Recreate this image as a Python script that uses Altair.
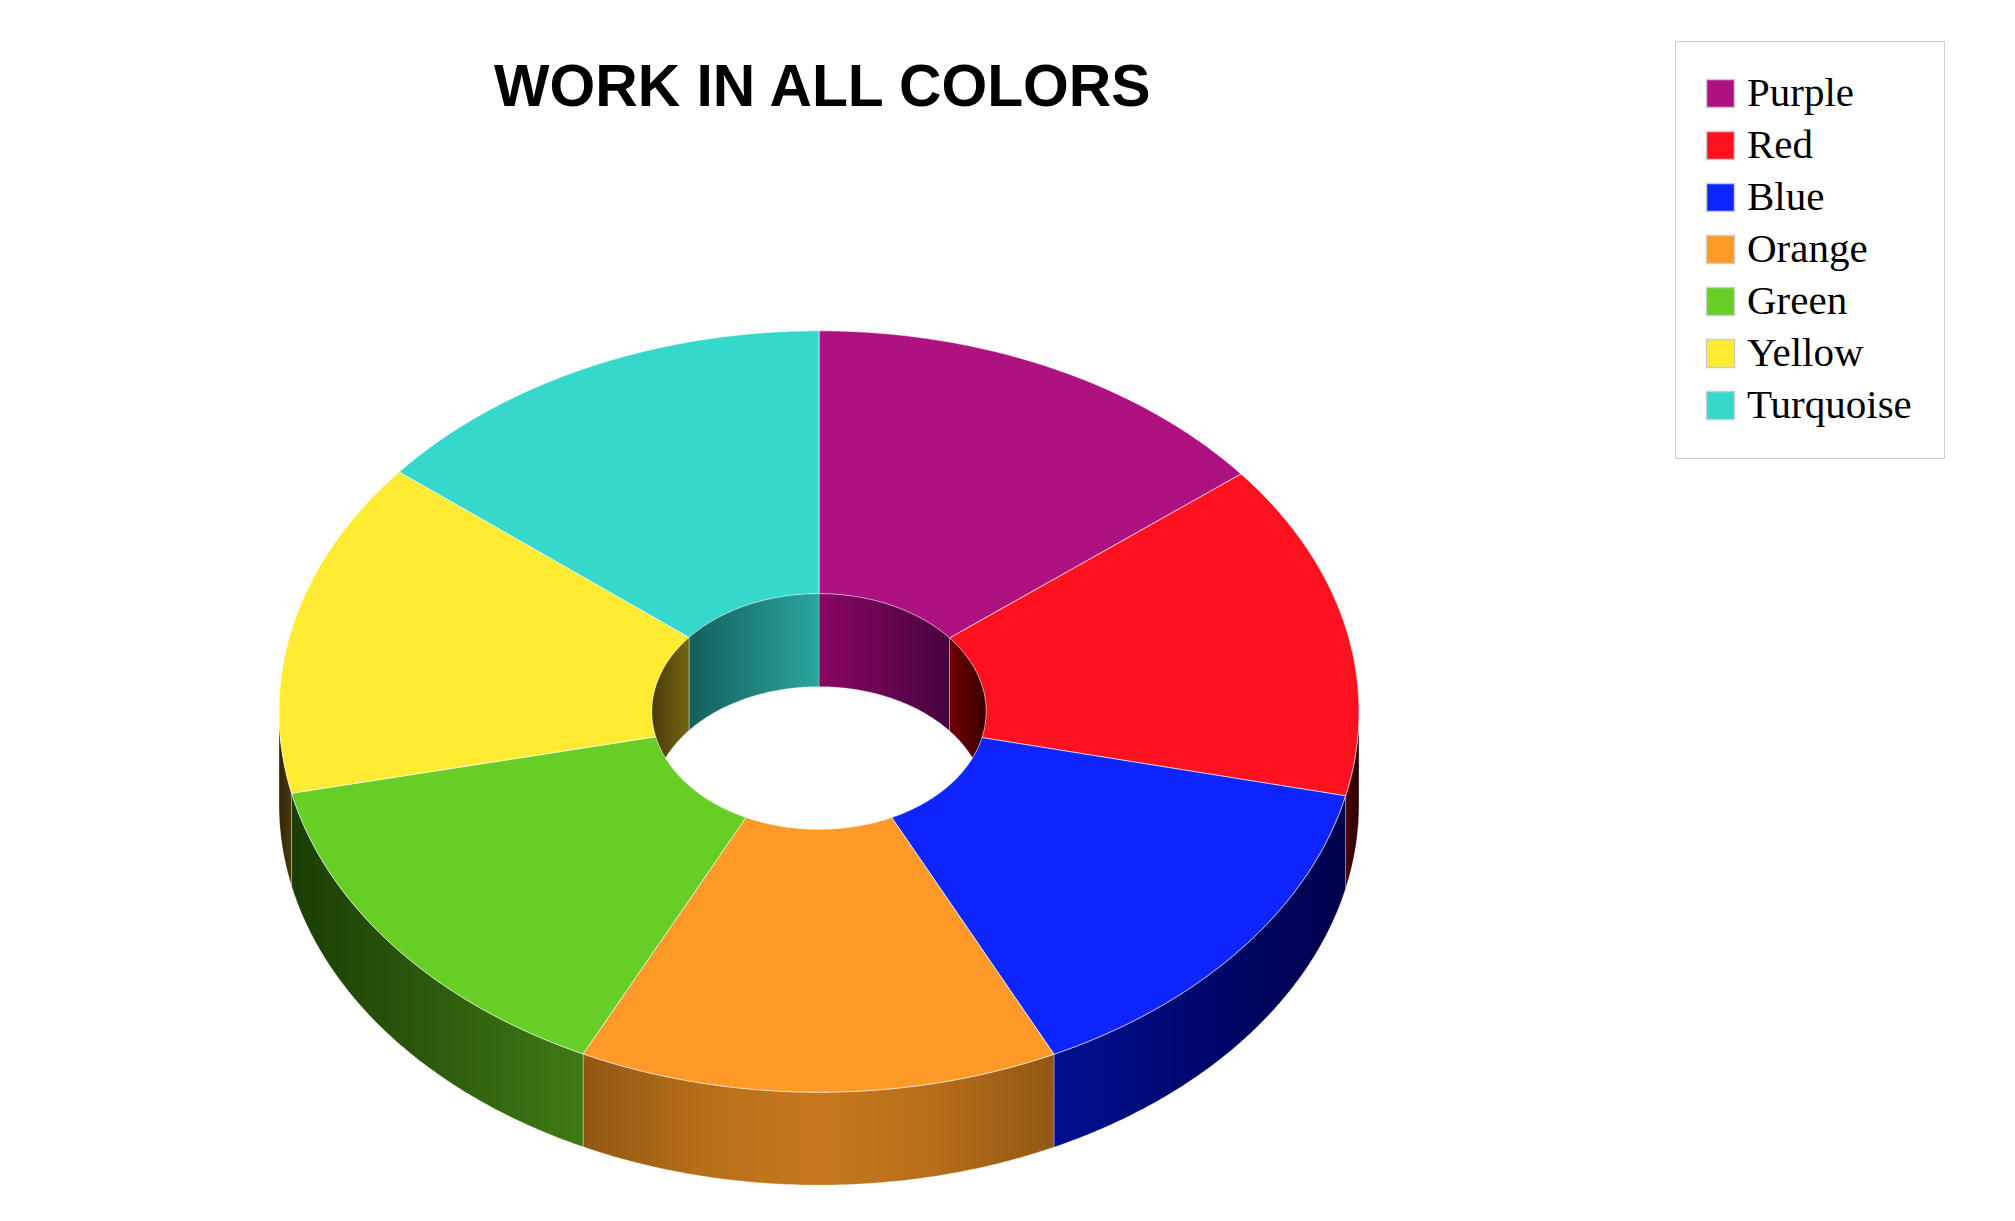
import math
import altair as alt

labels = ["Purple", "Red", "Blue", "Orange", "Green", "Yellow", "Turquoise"]
values = [51.4, 51.4, 51.4, 51.7, 51.7, 51.4, 51.0]
colors = ["#AE1281", "#FF121F", "#0F25FF", "#FF9A28", "#66CE24", "#FFEC32", "#36D8CC"]
# gradient stops of the outer and of the inner wall of each slice, left to right
outer_shades = [None, ["#4d0000", "#2a0000"], ["#000f90", "#00004a"],
                ["#915812", "#b56e19", "#c8781c", "#b56e19", "#915812"], ["#1a3d05", "#3f7b14"],
                ["#2f2507", "#4a3c0b"], None]
inner_shades = [["#8a0662", "#470340"], ["#700000", "#380000"], None, None, None,
                ["#4a3c0a", "#746610"], ["#13605c", "#2ba69e"]]

# donut geometry, in units of the outer radius
INNER = 0.3093
TILT = 0.705
DEPTH = 0.172
STEP = 0.5

WIDTH, HEIGHT = 1999, 1205
CX, CY, RX = 811, 703.5, 540
PROJ = dict(type="identity", scale=RX, translate=[CX, CY])


def grid(a, b):
    n = max(2, int(abs(b - a) / STEP) + 1)
    return [a + (b - a) * i / (n - 1) for i in range(n)]


def pt(r, t, dy=0.0):
    rad = math.radians(t)
    return [r * math.sin(rad), -r * TILT * math.cos(rad) + dy]


def feature(ring, name):
    return {"type": "Feature", "properties": {"name": name},
            "geometry": {"type": "Polygon", "coordinates": [ring + [ring[0]]]}}


def top_face(a, b):
    return [pt(1, t) for t in grid(a, b)] + [pt(INNER, t) for t in grid(b, a)]


def outer_wall(a, b):
    ts = grid(a, b)
    return [pt(1, t) for t in ts] + [pt(1, t, DEPTH) for t in reversed(ts)]


def inner_wall(a, b):
    ts = grid(a, b)
    upper = [pt(INNER, t) for t in ts]
    lower = []
    for t in reversed(ts):
        x, y = pt(INNER, t)
        lower.append([x, min(y + DEPTH, -y)])
    return upper + lower


def gradient(shades):
    k = len(shades) - 1
    return alt.LinearGradient(
        gradient="linear", x1=0, x2=1, y1=0, y2=0,
        stops=[alt.GradientStop(color=c, offset=i / k) for i, c in enumerate(shades)],
    )


total = sum(values)
spans = []
start = 0.0
for v in values:
    spans.append((start, start + 360.0 * v / total))
    start += 360.0 * v / total

tops = [feature(top_face(a, b), n) for (a, b), n in zip(spans, labels)]

layers = []
for (a, b), n, shades in zip(spans, labels, outer_shades):
    if shades:
        lo, hi = max(a, 90), min(b, 270)
        layers.append(
            alt.Chart(alt.Data(values=[feature(outer_wall(lo, hi), n)]))
            .mark_geoshape(fill=gradient(shades), stroke="#ffffff", strokeOpacity=0.3, strokeWidth=1)
            .project(**PROJ)
        )

layers.append(
    alt.Chart(alt.Data(values=tops))
    .mark_geoshape(stroke="#ffffff", strokeOpacity=0.6, strokeWidth=1)
    .encode(
        color=alt.Color(
            "properties.name:N",
            scale=alt.Scale(domain=labels, range=colors),
            sort=labels,
            legend=alt.Legend(
                title=None,
                orient="none",
                legendX=1667,
                legendY=33,
                padding=32,
                fillColor="#ffffff",
                strokeColor="#cccccc",
                symbolType="square",
                symbolSize=784,
                symbolStrokeColor="#cccccc",
                symbolStrokeWidth=1.5,
                symbolOpacity=1,
                symbolOffset=-7,
                labelFont="Liberation Serif",
                labelFontSize=41,
                labelColor="#000000",
                labelOffset=6,
                labelLimit=400,
                rowPadding=10,
            ),
        )
    )
    .project(**PROJ)
)

for (a, b), n, shades in zip(spans, labels, inner_shades):
    if shades:
        if a < 90:
            lo, hi = a, min(b, 90)
        else:
            lo, hi = max(a, 270), b
        layers.append(
            alt.Chart(alt.Data(values=[feature(inner_wall(lo, hi), n)]))
            .mark_geoshape(fill=gradient(shades), stroke="#ffffff", strokeOpacity=0.3, strokeWidth=1)
            .project(**PROJ)
        )

chart = (
    alt.layer(*layers)
    .properties(
        width=WIDTH,
        height=HEIGHT,
        padding=0,
        autosize=alt.AutoSizeParams(type="none"),
        title=alt.TitleParams(
            "WORK IN ALL COLORS",
            font="Liberation Sans",
            fontSize=58.8,
            fontWeight="bold",
            color="#000000",
            anchor="start",
            frame="group",
            baseline="alphabetic",
            offset=0,
            dx=486,
            dy=157,
        ),
    )
    .configure_view(stroke=None)
    .configure(background="#ffffff")
)

chart.save("out.html", embed_options={"renderer": "svg", "actions": False})
